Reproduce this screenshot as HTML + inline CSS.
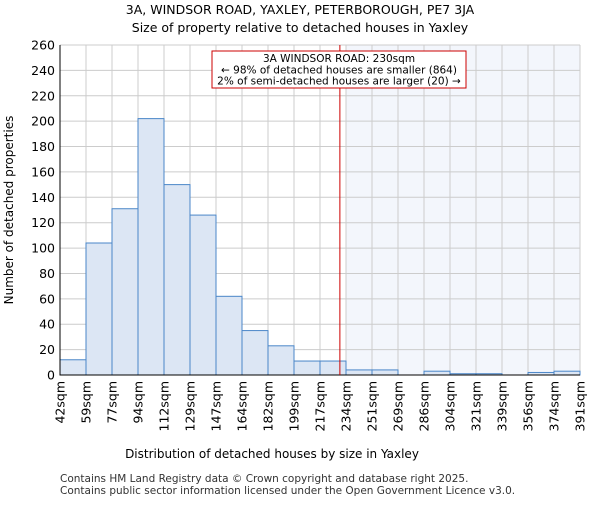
<!DOCTYPE html>
<html><head><meta charset="utf-8"><style>body{margin:0;background:#fff}svg{font-family:"DejaVu Sans","Liberation Sans",sans-serif}</style></head>
<body>
<svg id="c" width="600" height="500">
<text x="300" y="14" text-anchor="middle" font-size="12.5">3A, WINDSOR ROAD, YAXLEY, PETERBOROUGH, PE7 3JA</text>
<text x="300" y="32" text-anchor="middle" font-size="12.5">Size of property relative to detached houses in Yaxley</text>
<g id="g"></g>
<text x="272" y="458" text-anchor="middle" font-size="12">Distribution of detached houses by size in Yaxley</text>
<text transform="translate(13,210) rotate(-90)" text-anchor="middle" font-size="12">Number of detached properties</text>
<text x="60" y="482" font-size="10.5" fill="#333">Contains HM Land Registry data © Crown copyright and database right 2025.</text>
<text x="60" y="494" font-size="10.5" fill="#333">Contains public sector information licensed under the Open Government Licence v3.0.</text>
</svg>
<script>
const categories=["42sqm","59sqm","77sqm","94sqm","112sqm","129sqm","147sqm","164sqm","182sqm","199sqm","217sqm","234sqm","251sqm","269sqm","286sqm","304sqm","321sqm","339sqm","356sqm","374sqm","391sqm"];
const values=[12,104,131,202,150,126,62,35,23,11,11,4,4,0,3,1,1,0,2,3];
const yTicks=[0,20,40,60,80,100,120,140,160,180,200,220,240,260];
const edges=[42,59,77,94,112,129,147,164,182,199,217,234,251,269,286,304,321,339,356,374,391];
const propertySize=230;
const L=60,R=580,T=45,B=375,yMax=260;
const NS="http://www.w3.org/2000/svg",g=document.getElementById('g');
const bw=(R-L)/values.length;
const x=i=>L+i*bw, y=v=>B-(v/yMax)*(B-T);
function xv(s){let i=0;while(i<edges.length-2&&s>edges[i+1])i++;return x(i)+bw*(s-edges[i])/(edges[i+1]-edges[i]);}
function el(t,a,p){const e=document.createElementNS(NS,t);for(const k in a)e.setAttribute(k,a[k]);(p||g).appendChild(e);return e;}
const px=xv(propertySize);
let si=edges.findIndex(e=>e>=propertySize);
let sh=el('rect',{x:x(si),y:T,width:R-x(si),height:B-T,fill:'#f3f6fc'});


yTicks.forEach(t=>{let l=el('line',{x1:L,x2:R,y1:y(t),y2:y(t),stroke:'#ccc'});


let tx=el('text',{x:L-5,y:y(t)+4.5,'text-anchor':'end','font-size':'12.5'});tx.textContent=t;

});
categories.forEach((c,i)=>{let l=el('line',{x1:x(i),x2:x(i),y1:T,y2:B,stroke:'#ccc'});


let tx=el('text',{transform:`translate(${x(i)+4.5},${B+6}) rotate(-90)`,'text-anchor':'end','font-size':'12.5'});tx.textContent=c;

});
values.forEach((v,i)=>{let r=el('rect',{x:x(i),y:y(v),width:bw,height:B-y(v),fill:'#dce6f4',stroke:'#4a86c8','stroke-width':1});

});
let ax=el('path',{d:`M${L},${T}V${B}H${R}`,fill:'none',stroke:'#000','stroke-width':1});


let ml=el('line',{x1:px,x2:px,y1:T,y2:B,stroke:'#cc0000','stroke-width':1});


let bx=el('rect',{x:212,y:51,width:254,height:37,fill:'#fff',stroke:'#cc0000','stroke-width':1});


["3A WINDSOR ROAD: 230sqm","← 98% of detached houses are smaller (864)","2% of semi-detached houses are larger (20) →"].forEach((s,i)=>{let t=el('text',{x:339,y:62+i*11.3,'text-anchor':'middle','font-size':'10.5'});t.textContent=s;

});
</script>
</body></html>
